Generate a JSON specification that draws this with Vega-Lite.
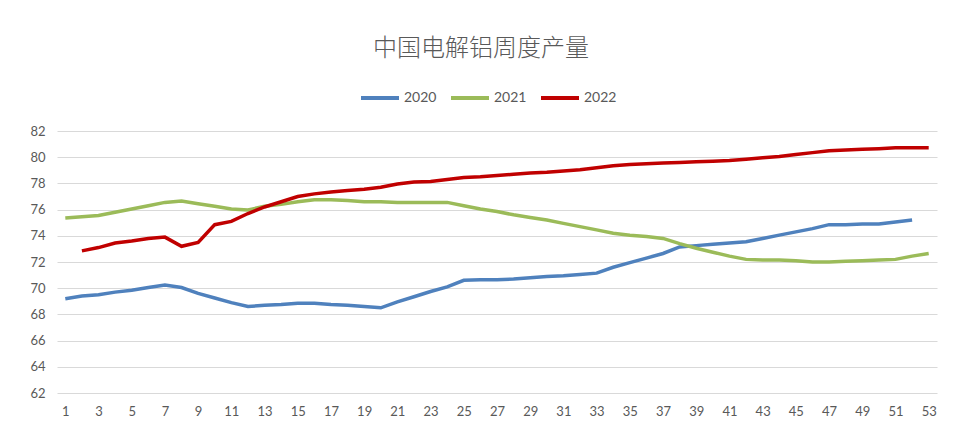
{
  "$schema": "https://vega.github.io/schema/vega-lite/v6.json",
  "autosize": "none",
  "width": 880,
  "height": 262,
  "padding": {"left": 57, "top": 131, "right": 27, "bottom": 54},
  "background": "white",
  "title": {
    "text": "中国电解铝周度产量",
    "anchor": "middle",
    "font": "Noto Sans CJK SC",
    "fontSize": 24,
    "fontWeight": 300,
    "color": "#595959",
    "dx": -16,
    "offset": 16
  },
  "datasets": {
    "d2020": [
      {"week":1,"value":69.2},{"week":2,"value":69.4},{"week":3,"value":69.5},{"week":4,"value":69.7},{"week":5,"value":69.85},{"week":6,"value":70.05},{"week":7,"value":70.25},{"week":8,"value":70.05},{"week":9,"value":69.6},{"week":10,"value":69.25},{"week":11,"value":68.9},{"week":12,"value":68.6},{"week":13,"value":68.7},{"week":14,"value":68.75},{"week":15,"value":68.85},{"week":16,"value":68.85},{"week":17,"value":68.75},{"week":18,"value":68.7},{"week":19,"value":68.6},{"week":20,"value":68.5},{"week":21,"value":68.95},{"week":22,"value":69.35},{"week":23,"value":69.75},{"week":24,"value":70.1},{"week":25,"value":70.6},{"week":26,"value":70.65},{"week":27,"value":70.65},{"week":28,"value":70.7},{"week":29,"value":70.8},{"week":30,"value":70.9},{"week":31,"value":70.95},{"week":32,"value":71.05},{"week":33,"value":71.15},{"week":34,"value":71.6},{"week":35,"value":71.95},{"week":36,"value":72.3},{"week":37,"value":72.65},{"week":38,"value":73.15},{"week":39,"value":73.25},{"week":40,"value":73.35},{"week":41,"value":73.45},{"week":42,"value":73.55},{"week":43,"value":73.8},{"week":44,"value":74.05},{"week":45,"value":74.3},{"week":46,"value":74.55},{"week":47,"value":74.85},{"week":48,"value":74.85},{"week":49,"value":74.9},{"week":50,"value":74.9},{"week":51,"value":75.05},{"week":52,"value":75.2}
    ],
    "d2021": [
      {"week":1,"value":75.35},{"week":2,"value":75.45},{"week":3,"value":75.55},{"week":4,"value":75.8},{"week":5,"value":76.05},{"week":6,"value":76.3},{"week":7,"value":76.55},{"week":8,"value":76.65},{"week":9,"value":76.45},{"week":10,"value":76.25},{"week":11,"value":76.05},{"week":12,"value":75.97},{"week":13,"value":76.25},{"week":14,"value":76.4},{"week":15,"value":76.6},{"week":16,"value":76.75},{"week":17,"value":76.75},{"week":18,"value":76.7},{"week":19,"value":76.6},{"week":20,"value":76.6},{"week":21,"value":76.55},{"week":22,"value":76.55},{"week":23,"value":76.55},{"week":24,"value":76.55},{"week":25,"value":76.3},{"week":26,"value":76.05},{"week":27,"value":75.85},{"week":28,"value":75.6},{"week":29,"value":75.4},{"week":30,"value":75.2},{"week":31,"value":74.95},{"week":32,"value":74.7},{"week":33,"value":74.45},{"week":34,"value":74.2},{"week":35,"value":74.05},{"week":36,"value":73.95},{"week":37,"value":73.8},{"week":38,"value":73.4},{"week":39,"value":73.05},{"week":40,"value":72.75},{"week":41,"value":72.45},{"week":42,"value":72.2},{"week":43,"value":72.15},{"week":44,"value":72.15},{"week":45,"value":72.1},{"week":46,"value":72.0},{"week":47,"value":72.0},{"week":48,"value":72.05},{"week":49,"value":72.1},{"week":50,"value":72.15},{"week":51,"value":72.2},{"week":52,"value":72.45},{"week":53,"value":72.65}
    ],
    "d2022": [
      {"week":2,"value":72.85},{"week":3,"value":73.1},{"week":4,"value":73.45},{"week":5,"value":73.6},{"week":6,"value":73.8},{"week":7,"value":73.9},{"week":8,"value":73.2},{"week":9,"value":73.5},{"week":10,"value":74.85},{"week":11,"value":75.1},{"week":12,"value":75.7},{"week":13,"value":76.2},{"week":14,"value":76.6},{"week":15,"value":77.0},{"week":16,"value":77.2},{"week":17,"value":77.35},{"week":18,"value":77.45},{"week":19,"value":77.55},{"week":20,"value":77.7},{"week":21,"value":77.95},{"week":22,"value":78.1},{"week":23,"value":78.15},{"week":24,"value":78.3},{"week":25,"value":78.45},{"week":26,"value":78.5},{"week":27,"value":78.6},{"week":28,"value":78.7},{"week":29,"value":78.8},{"week":30,"value":78.85},{"week":31,"value":78.95},{"week":32,"value":79.05},{"week":33,"value":79.2},{"week":34,"value":79.35},{"week":35,"value":79.45},{"week":36,"value":79.5},{"week":37,"value":79.55},{"week":38,"value":79.6},{"week":39,"value":79.65},{"week":40,"value":79.7},{"week":41,"value":79.75},{"week":42,"value":79.85},{"week":43,"value":79.95},{"week":44,"value":80.05},{"week":45,"value":80.2},{"week":46,"value":80.35},{"week":47,"value":80.5},{"week":48,"value":80.55},{"week":49,"value":80.6},{"week":50,"value":80.65},{"week":51,"value":80.72},{"week":52,"value":80.72},{"week":53,"value":80.72}
    ]
  },
  "encoding": {
    "x": {
      "field": "week",
      "type": "quantitative",
      "scale": {"domain": [0.5, 53.5], "nice": false, "zero": false},
      "axis": {
        "title": null,
        "values": [1,3,5,7,9,11,13,15,17,19,21,23,25,27,29,31,33,35,37,39,41,43,45,47,49,51,53],
        "grid": false,
        "domain": false,
        "ticks": false,
        "labelPadding": 12,
        "labelFont": "Lato",
        "labelFontSize": 13,
        "labelColor": "#595959"
      }
    },
    "y": {
      "field": "value",
      "type": "quantitative",
      "scale": {"domain": [62, 82], "nice": false, "zero": false},
      "axis": {
        "title": null,
        "values": [62,64,66,68,70,72,74,76,78,80,82],
        "grid": true,
        "gridColor": "#D9D9D9",
        "gridWidth": 1,
        "domain": false,
        "ticks": false,
        "labelPadding": 12,
        "labelFont": "Lato",
        "labelFontSize": 13,
        "labelColor": "#595959"
      }
    },
    "color": {
      "field": "year",
      "type": "nominal",
      "scale": {"domain": ["2020", "2021", "2022"], "range": ["#4F81BD", "#9BBB59", "#C00000"]},
      "legend": {
        "title": null,
        "orient": "none",
        "legendX": 302,
        "legendY": -54,
        "direction": "horizontal",
        "columns": 3,
        "symbolType": "stroke",
        "symbolSize": 1444,
        "symbolStrokeWidth": 4,
        "labelFont": "Lato",
        "labelFontSize": 14,
        "labelColor": "#595959",
        "columnPadding": 6,
        "labelOffset": 3
      }
    }
  },
  "layer": [
    {"data": {"name": "d2020"}, "transform": [{"calculate": "'2020'", "as": "year"}], "mark": {"type": "line", "strokeWidth": 3.5}},
    {"data": {"name": "d2021"}, "transform": [{"calculate": "'2021'", "as": "year"}], "mark": {"type": "line", "strokeWidth": 3.5}},
    {"data": {"name": "d2022"}, "transform": [{"calculate": "'2022'", "as": "year"}], "mark": {"type": "line", "strokeWidth": 3.5}}
  ],
  "config": {"view": {"stroke": null}}
}
